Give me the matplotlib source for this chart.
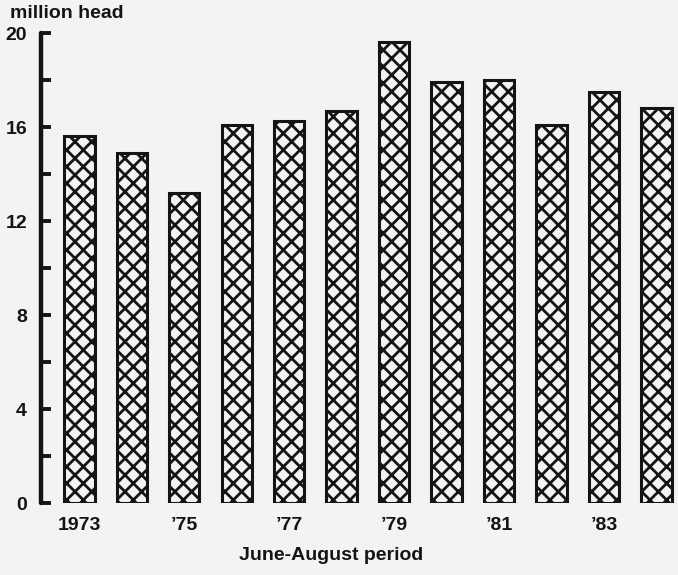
import matplotlib.pyplot as plt
import numpy as np

plt.rcParams['font.family'] = ['Liberation Sans', 'DejaVu Sans']
plt.rcParams['font.weight'] = 'bold'
plt.rcParams['hatch.linewidth'] = 2.0

# data (million head, June-August)
years = ['1973', '1974', '1975', '1976', '1977', '1978',
         '1979', '1980', '1981', '1982', '1983', '1984']
head = [15.6, 14.9, 13.2, 16.1, 16.25, 16.7, 19.6, 17.9, 18.0, 16.1, 17.5, 16.8]
year_labels = ['1973', '', '\u201975', '', '\u201977', '', '\u201979', '',
               '\u201981', '', '\u201983', '']
y_ticks = [0, 4, 8, 12, 16, 20]

bg = '#f3f3f1'
ink = '#141414'

fig = plt.figure(figsize=(6.78, 5.75), dpi=100, facecolor=bg)
ax = fig.add_axes([41 / 678, 72 / 575, 637 / 678, 470 / 575], facecolor=bg)

x = np.arange(len(years))
ax.bar(x, head, width=0.58, color=bg, edgecolor=ink, linewidth=2.2,
       hatch='xx', zorder=2)

ax.set_xlim(-0.73, 11.41)
ax.set_ylim(0, 20)

for s in ['top', 'right', 'bottom']:
    ax.spines[s].set_visible(False)
ax.spines['left'].set_linewidth(3.2)
ax.spines['left'].set_color(ink)
ax.spines['left'].set_capstyle('round')

ax.set_yticks(np.arange(0, 21, 2))
ax.set_yticklabels([str(v) if v in y_ticks else '' for v in range(0, 21, 2)])
ax.tick_params(axis='y', direction='in', length=7, width=2.8, color=ink,
               labelsize=14, pad=10, labelcolor=ink)

ax.set_xticks(x)
ax.set_xticklabels(year_labels)
ax.tick_params(axis='x', length=0, labelsize=14, pad=10, labelcolor=ink)

fig.text(10 / 678, 1 - 13 / 575, 'million head', fontsize=14,
         fontweight='bold', color=ink, va='center', ha='left')
fig.text(331 / 678, 1 - 555 / 575, 'June-August period', fontsize=14,
         fontweight='bold', color=ink, va='center', ha='center')

fig.savefig('out.png', dpi=100, facecolor=bg)
